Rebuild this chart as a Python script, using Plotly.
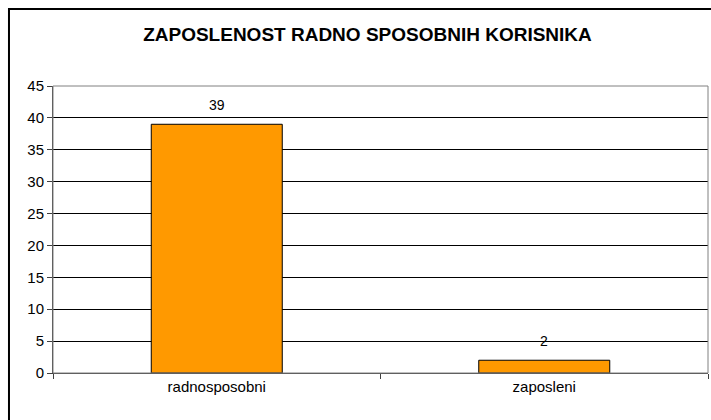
import plotly.graph_objects as go

categories = ["radnosposobni", "zaposleni"]
values = [39, 2]
y_ticks = [0, 5, 10, 15, 20, 25, 30, 35, 40, 45]
title_text = "ZAPOSLENOST RADNO SPOSOBNIH KORISNIKA"

FONT = "Liberation Sans, Arial, sans-serif"

fig = go.Figure()
fig.add_trace(go.Bar(
    x=categories, y=values,
    width=0.4,
    marker=dict(color="#FF9900", line=dict(color="#000000", width=1)),
    showlegend=False,
    hoverinfo="x+y",
))

for c, v in zip(categories, values):
    fig.add_annotation(x=c, y=v, text=str(v), showarrow=False,
                       yanchor="middle", yshift=19,
                       font=dict(family=FONT, size=14, color="#000000"))

# outer chart frame
fig.add_shape(type="rect", xref="paper", yref="paper",
              x0=-0.0672, x1=1.2, y0=-0.4, y1=1.268,
              line=dict(color="#000000", width=2))
# plot area border (gray) drawn above gridlines
fig.add_shape(type="rect", xref="paper", yref="paper", x0=0, x1=1, y0=0, y1=1,
              line=dict(color="#808080", width=1), layer="above")

fig.update_layout(
    width=711, height=420,
    margin=dict(l=53, r=3, t=86, b=47, autoexpand=False),
    paper_bgcolor="#FFFFFF", plot_bgcolor="#FFFFFF",
    font=dict(family=FONT, size=14, color="#000000"),
    title=dict(text="<b>" + title_text + "</b>", x=367.5 / 711, xanchor="center",
               xref="container", y=1 - 34 / 420, yref="container", yanchor="middle",
               font=dict(family=FONT, size=19, color="#000000")),
    bargap=0.6,
)
fig.update_xaxes(
    type="category", automargin=False,
    showline=True, linecolor="#404040", linewidth=1,
    ticks="outside", tickson="boundaries", ticklen=5, tickcolor="#404040",
    tickfont=dict(family=FONT, size=15, color="#000000"),
    showgrid=False,
)
fig.update_yaxes(
    range=[0, 45], tickvals=y_ticks, automargin=False,
    showline=True, linecolor="#404040", linewidth=1,
    ticks="outside", ticklen=5, tickcolor="#404040",
    tickfont=dict(family=FONT, size=15, color="#000000"),
    showgrid=True, gridcolor="#000000", gridwidth=1,
    zeroline=False,
)

fig.write_html("out.html",
               config={"displayModeBar": False},
               post_script="document.body.style.margin='0';document.body.style.overflow='hidden';")
